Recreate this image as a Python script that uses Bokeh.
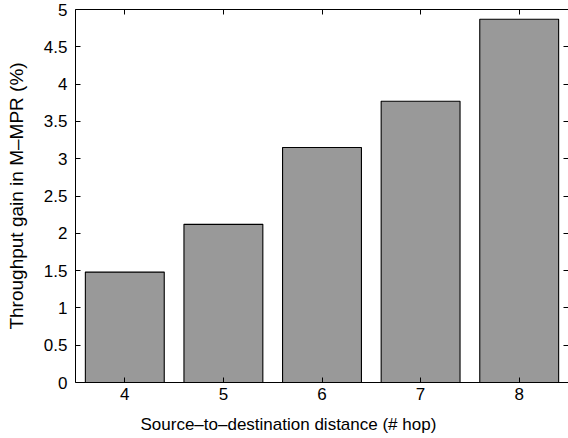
from bokeh.plotting import figure
from bokeh.models import Range1d, FixedTicker, NumeralTickFormatter, LinearAxis, Title
from bokeh.embed import file_html
from bokeh.resources import INLINE

hops = [4, 5, 6, 7, 8]
gain = [1.48, 2.12, 3.15, 3.77, 4.87]
y_ticks = [0, 0.5, 1, 1.5, 2, 2.5, 3, 3.5, 4, 4.5, 5]
x_label = "Source\u2013to\u2013destination distance (# hop)"
y_label = "Throughput gain in M\u2013MPR (%)"

FONT = "Liberation Sans"
TICK_FS = "17px"

p = figure(frame_width=493, frame_height=373, output_backend="svg", toolbar_location=None,
           x_range=Range1d(3.5, 8.5), y_range=Range1d(0, 5),
           min_border_left=75, min_border_right=0, min_border_top=9, min_border_bottom=56)
p.outline_line_color = None
p.xgrid.visible = False
p.ygrid.visible = False
p.background_fill_color = "white"
p.border_fill_color = "white"

p.vbar(x=hops, top=gain, width=0.8, bottom=0, fill_color="#999999",
       line_color="black", line_width=1.1)

def style(ax, ticks, show_labels=True):
    ax.ticker = FixedTicker(ticks=ticks)
    ax.major_tick_in = 5
    ax.major_tick_out = 0
    ax.minor_tick_line_color = None
    ax.axis_line_color = "black"
    ax.axis_line_width = 1
    ax.major_tick_line_color = "black"
    ax.major_tick_line_width = 1
    ax.major_label_text_font = FONT
    if show_labels:
        ax.major_label_text_font_size = TICK_FS
        ax.major_label_text_color = "black"
    else:
        ax.major_label_text_font_size = "0px"
        ax.major_label_text_color = None
        ax.major_label_standoff = 0

xa = p.xaxis[0]
style(xa, hops)
xa.major_label_standoff = 5

ya = p.yaxis[0]
style(ya, y_ticks)
ya.formatter = NumeralTickFormatter(format="0.[0]")
ya.major_label_standoff = 8
ya.axis_label = y_label
ya.axis_label_text_font = FONT
ya.axis_label_text_font_size = "19px"
ya.axis_label_text_font_style = "normal"
ya.axis_label_text_color = "black"
ya.axis_label_standoff = 14

top = LinearAxis()
style(top, hops, show_labels=False)
p.add_layout(top, "above")

right = LinearAxis()
style(right, y_ticks, show_labels=False)
right.axis_line_color = None
p.add_layout(right, "right")

xt = Title(text=x_label, align="left", offset=65, vertical_align="top", standoff=24,
           text_font=FONT, text_font_size="17px", text_font_style="normal", text_color="black")
p.add_layout(xt, "below")

open("out.html", "w").write(file_html(p, INLINE))
